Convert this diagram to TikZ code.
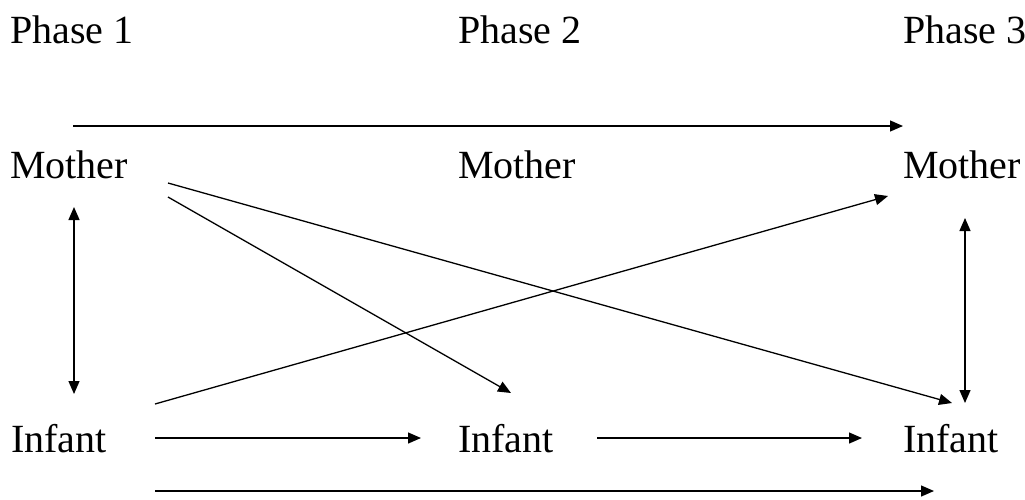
\documentclass[tikz,border=0pt]{standalone}
\usepackage{fontspec}
\setmainfont{Liberation Serif}
\usetikzlibrary{arrows.meta}
\begin{document}
\begin{tikzpicture}[x=1pt,y=-1pt,
  lbl/.style={anchor=base west,inner sep=0pt,font=\fontsize{40}{42}\selectfont},
  conn/.style={line width=1.3pt,-{Triangle[length=13pt,width=11pt]}},
  dconn/.style={line width=1.3pt,{Triangle[length=13pt,width=11pt]}-{Triangle[length=13pt,width=11pt]}}]
\useasboundingbox (0,0) rectangle (1025,499);
% labels
\node[lbl] (p1) at (10,43) {Phase 1};
\node[lbl] (p2) at (458,43) {Phase 2};
\node[lbl] (p3) at (903,43) {Phase 3};
\node[lbl] (m1) at (10,178) {Mother};
\node[lbl] (m2) at (458,178) {Mother};
\node[lbl] (m3) at (903,178) {Mother};
\node[lbl] (i1) at (11,452) {Infant};
\node[lbl] (i2) at (458,452) {Infant};
\node[lbl] (i3) at (903,452) {Infant};
% endpoints
\coordinate (topA) at (73,126);
\coordinate (topB) at (903,126);
\coordinate (botA) at (155,491);
\coordinate (botB) at (934,491);
\coordinate (i1r) at (155,438);
\coordinate (i2l) at (421,438);
\coordinate (i2r) at (597,438);
\coordinate (i3l) at (862,438);
\coordinate (m1d) at (74,207);
\coordinate (i1u) at (74,394);
\coordinate (m3d) at (965,218);
\coordinate (i3u) at (965,403);
\coordinate (i1ur) at (155,404);
\coordinate (m3dl) at (888,196);
\coordinate (m1a) at (168,197);
\coordinate (i2u) at (511,393);
\coordinate (m1b) at (168,183);
\coordinate (i3ul) at (952,403);
% connectors
\draw[conn] (topA) -- (topB);
\draw[conn] (botA) -- (botB);
\draw[conn] (i1r) -- (i2l);
\draw[conn] (i2r) -- (i3l);
\draw[dconn] (m1d) -- (i1u);
\draw[dconn] (m3d) -- (i3u);
\draw[conn] (i1ur) -- (m3dl);
\draw[conn] (m1a) -- (i2u);
\draw[conn] (m1b) -- (i3ul);
\end{tikzpicture}
\end{document}
